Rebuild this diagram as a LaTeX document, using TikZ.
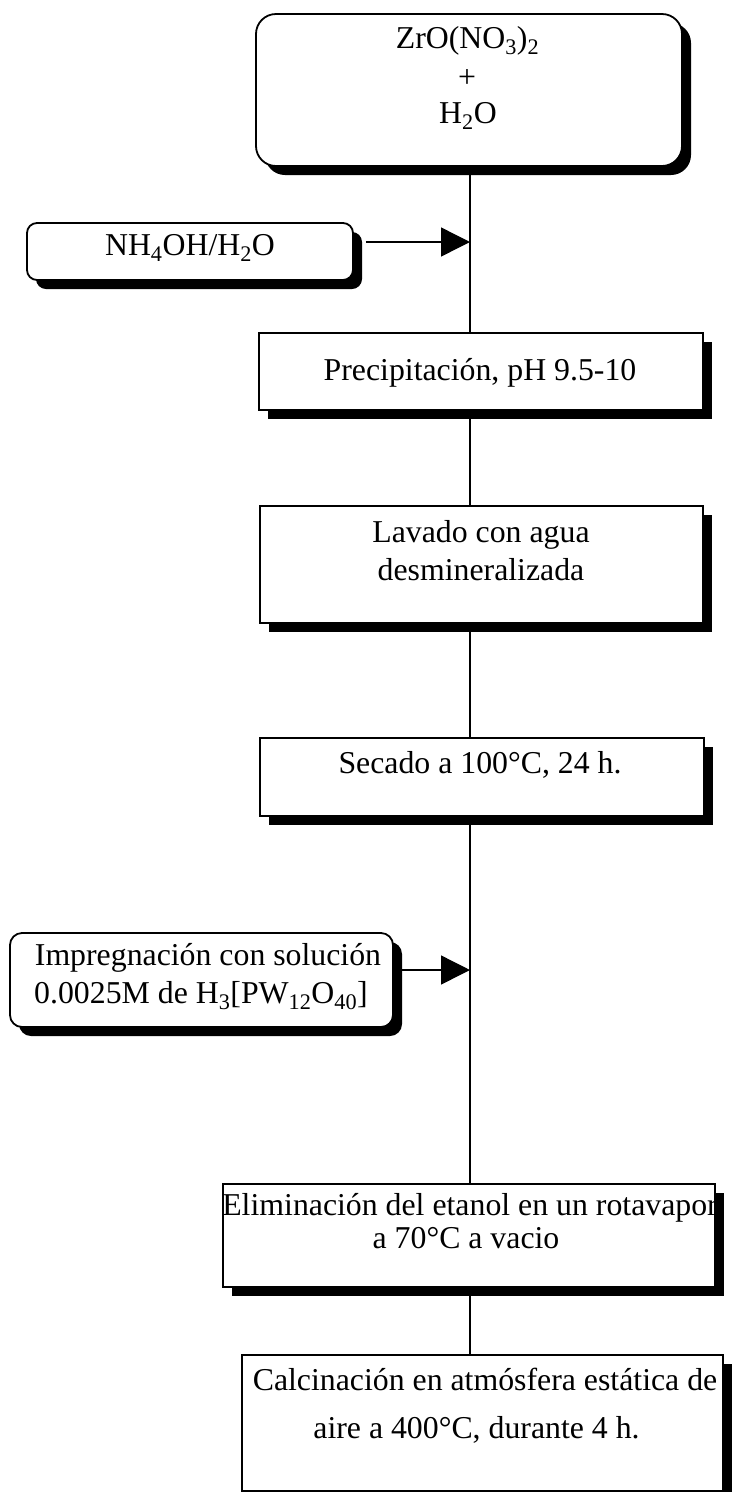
\documentclass[tikz,border=0pt]{standalone}
\usepackage{fontspec}
\setmainfont{Liberation Serif}
\usetikzlibrary{arrows.meta,shadows,backgrounds}
\begin{document}
\begin{tikzpicture}[x=1pt,y=-1pt,
  box/.style={draw, line width=1.8pt, fill=white, inner sep=0pt,
    drop shadow={shadow xshift=9pt, shadow yshift=-9pt, fill=black, opacity=1}},
  txt/.style={anchor=base, inner sep=0pt, font=\fontsize{31.8}{38}\selectfont},
  conn/.style={line width=1.4pt},
  feed/.style={line width=1.4pt, -{Triangle[length=29pt,width=29pt]}}]
\clip (0,0) rectangle (732,1492);
% boxes
\node[box, rounded corners=20pt, minimum width=426pt, minimum height=152pt] (zr) at (469,90) {};
\node[box, rounded corners=10pt, minimum width=326pt, minimum height=57pt] (nh4) at (190,251.5) {};
\node[box, minimum width=444pt, minimum height=77pt] (prec) at (481,371.5) {};
\node[box, minimum width=443pt, minimum height=117pt] (lav) at (481.5,564.5) {};
\node[box, minimum width=444pt, minimum height=78pt] (sec) at (482,777) {};
\node[box, rounded corners=12pt, minimum width=383pt, minimum height=94pt] (imp) at (201.5,980) {};
\node[box, minimum width=492pt, minimum height=103pt] (elim) at (469,1235.5) {};
\node[box, minimum width=481pt, minimum height=136pt] (calc) at (482.5,1423) {};
% texts
\node[txt] (zrA) at (467.5,48) {ZrO(NO\textsubscript{3})\textsubscript{2}};
\node[txt] (zrB) at (467,87) {+};
\node[txt] (zrC) at (468,123) {H\textsubscript{2}O};
\node[txt] (nh4A) at (190,255) {NH\textsubscript{4}OH/H\textsubscript{2}O};
\node[txt] (precA) at (480,380) {Precipitación, pH 9.5-10};
\node[txt] (lavA) at (481,542) {Lavado con agua};
\node[txt] (lavB) at (481,580) {desmineralizada};
\node[txt] (secA) at (480,773) {Secado a 100°C, 24 h.};
\node[txt] (impA) at (208,965) {Impregnación con solución};
\node[txt] (impB) at (201,1003) {0.0025M de H\textsubscript{3}[PW\textsubscript{12}O\textsubscript{40}]};
\node[txt] (elimA) at (470,1215) {Eliminación del etanol en un rotavapor};
\node[txt] (elimB) at (466,1248) {a 70°C a vacio};
\node[txt] (calcA) at (485,1390) {Calcinación en atmósfera estática de};
\node[txt] (calcB) at (476.5,1438) {aire a 400°C, durante 4 h.};
% junctions
\coordinate (j1) at (470,242);
\coordinate (j2) at (470,970);
\begin{scope}[on background layer]
\fill[white] (0,0) rectangle (732,1492);
\draw[conn] (zr.south -| j1) -- (prec.north -| j1);
\draw[conn] (prec.south -| j1) -- (lav.north -| j1);
\draw[conn] (lav.south -| j1) -- (sec.north -| j1);
\draw[conn] (sec.south -| j1) -- (elim.north -| j1);
\draw[conn] (elim.south -| j1) -- (calc.north -| j1);
\end{scope}
\draw[feed] ([xshift=12pt]j1 -| nh4.east) -- (j1);
\draw[feed] ([xshift=5pt]j2 -| imp.east) -- (j2);
\end{tikzpicture}
\end{document}
